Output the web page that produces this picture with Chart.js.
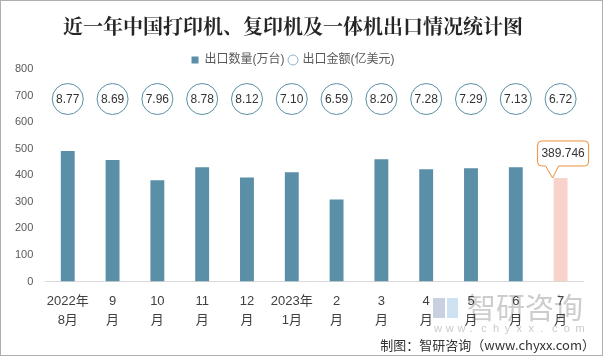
<!DOCTYPE html>
<html>
<head>
<meta charset="utf-8">
<script src="https://cdn.jsdelivr.net/npm/chart.js@4/dist/chart.umd.min.js"></script>
<style>
  html, body { margin: 0; padding: 0; background: #fff; }
  #wrap { position: relative; width: 603px; height: 356px; }
  canvas { display: block; }
</style>
</head>
<body>
<div id="wrap"><canvas id="c" width="603" height="356"></canvas></div>
<script>
// ---- data ----
const categories = [['2022年','8月'],['9','月'],['10','月'],['11','月'],['12','月'],['2023年','1月'],['2','月'],['3','月'],['4','月'],['5','月'],['6','月'],['7','月']];
const exportQty = [491, 457, 381, 430, 392, 411, 309, 460, 423, 426, 430, 389.746];     // 出口数量(万台)
const exportAmount = [8.77, 8.69, 7.96, 8.78, 8.12, 7.10, 6.59, 8.20, 7.28, 7.29, 7.13, 6.72]; // 出口金额(亿美元)
const yTicks = [0, 100, 200, 300, 400, 500, 600, 700, 800];

const FONT = "'Liberation Sans', 'Noto Sans CJK SC', sans-serif";
Chart.defaults.font.family = FONT;

const barColors = exportQty.map((v, i) => i === exportQty.length - 1 ? '#F8D3CB' : '#5B8FA7');

// tighten the legend box so the plot starts right below it
const legendTight = {
  id: 'legendTight',
  beforeLayout(chart, args, opts) {
    const lg = chart.legend;
    if (lg && !lg._tightPatched) {
      const fit = lg.fit;
      lg.fit = function () { fit.call(this); this.height = Math.max(0, this.height - opts.shrink); };
      lg._tightPatched = true;
    }
  }
};

// circles with amount labels, placed at bar centres at a fixed level of the value axis
const amountCircles = {
  id: 'amountCircles',
  afterDatasetsDraw(chart, args, opts) {
    const ctx = chart.ctx;
    const xs = chart.scales.x, ys = chart.scales.y;
    const y = ys.getPixelForValue(opts.level);
    ctx.save();
    exportAmount.forEach((v, i) => {
      const x = xs.getPixelForValue(i);
      ctx.beginPath();
      ctx.arc(x, y, 15.5, 0, Math.PI * 2);
      ctx.fillStyle = '#fff';
      ctx.fill();
      ctx.lineWidth = 1;
      ctx.strokeStyle = '#5B8FA7';
      ctx.stroke();
      ctx.fillStyle = '#333';
      ctx.font = '12px ' + FONT;
      ctx.textAlign = 'center';
      ctx.textBaseline = 'middle';
      ctx.fillText(v.toFixed(2), x, y + 0.5);
    });
    ctx.restore();
  }
};

// callout on the last bar
const callout = {
  id: 'callout',
  afterDatasetsDraw(chart) {
    const meta = chart.getDatasetMeta(0);
    const i = exportQty.length - 1;
    const bar = meta.data[i];
    const ctx = chart.ctx;
    const text = String(exportQty[i]);
    const w = 51, h = 25, r = 4;
    const cx = bar.x + 2.5;
    const bottom = bar.y - 12;
    const left = cx - w / 2, top = bottom - h;
    const tipX = bar.x - 8, tipY = bar.y;
    ctx.save();
    ctx.beginPath();
    ctx.moveTo(left + r, top);
    ctx.lineTo(left + w - r, top);
    ctx.quadraticCurveTo(left + w, top, left + w, top + r);
    ctx.lineTo(left + w, bottom - r);
    ctx.quadraticCurveTo(left + w, bottom, left + w - r, bottom);
    ctx.lineTo(tipX + 6, bottom);
    ctx.lineTo(tipX, tipY);
    ctx.lineTo(tipX - 7, bottom);
    ctx.lineTo(left + r, bottom);
    ctx.quadraticCurveTo(left, bottom, left, bottom - r);
    ctx.lineTo(left, top + r);
    ctx.quadraticCurveTo(left, top, left + r, top);
    ctx.closePath();
    ctx.fillStyle = '#fff';
    ctx.fill();
    ctx.lineWidth = 1;
    ctx.strokeStyle = '#E8913A';
    ctx.stroke();
    ctx.fillStyle = '#333';
    ctx.font = '12px ' + FONT;
    ctx.textAlign = 'center';
    ctx.textBaseline = 'middle';
    ctx.fillText(text, cx, top + h / 2 + 0.5);
    ctx.restore();
  }
};

// watermark, footer and frame
const decor = {
  id: 'decor',
  beforeDraw(chart) {
    const ctx = chart.ctx;
    ctx.save();
    ctx.fillStyle = '#fff';
    ctx.fillRect(0, 0, chart.width, chart.height);
    ctx.fillStyle = '#C9D0DF';
    ctx.fillRect(433, 298, 12, 20);
    ctx.fillStyle = '#CFE2F1';
    ctx.fillRect(447, 298, 11, 20);
    ctx.fillStyle = '#CDCDCD';
    ctx.font = '29px "Noto Sans CJK SC", sans-serif';
    ctx.textAlign = 'left';
    ctx.textBaseline = 'middle';
    ctx.fillText('智研咨询', 467, 308);
    ctx.fillStyle = '#CACACA';
    ctx.font = '11px ' + FONT;
    const wm = 'www.chyxx.com';
    for (let k = 0; k < wm.length; k++) {
      ctx.fillText(wm[k], 434 + k * 11.8, 329);
    }
    ctx.restore();
  },
  afterDraw(chart) {
    const ctx = chart.ctx;
    ctx.save();
    ctx.fillStyle = '#333';
    ctx.font = '13px "Noto Sans CJK SC", sans-serif';
    ctx.textAlign = 'right';
    ctx.textBaseline = 'middle';
    ctx.fillText('制图：智研咨询（www.chyxx.com）', 595, 345);
    ctx.strokeStyle = '#AFAFAF';
    ctx.lineWidth = 1;
    ctx.strokeRect(0.5, 0.5, chart.width - 1, chart.height - 1);
    ctx.restore();
  }
};

new Chart(document.getElementById('c'), {
  type: 'bar',
  data: {
    labels: categories,
    datasets: [
      {
        type: 'bar',
        label: '出口数量(万台)',
        data: exportQty,
        backgroundColor: barColors,
        borderWidth: 0,
        barPercentage: 0.31,
        categoryPercentage: 1,
        pointStyle: 'rect',
        yAxisID: 'y'
      },
      {
        type: 'line',
        label: '出口金额(亿美元)',
        data: exportAmount,
        yAxisID: 'y2',
        showLine: false,
        pointRadius: 0,
        pointHoverRadius: 0,
        pointStyle: 'circle',
        borderColor: '#8FB3C9',
        backgroundColor: '#fff',
        borderWidth: 1
      }
    ]
  },
  options: {
    responsive: false,
    animation: false,
    devicePixelRatio: 1,
    layout: { padding: { left: 3, right: 20, top: 0, bottom: 15.5 } },
    plugins: {
      title: {
        display: true,
        text: '近一年中国打印机、复印机及一体机出口情况统计图',
        color: '#262626',
        font: { size: 20, weight: 'bold', family: "'Noto Serif CJK SC', 'Noto Sans CJK SC', serif" },
        padding: { top: 14, bottom: 11 }
      },
      legend: {
        display: true,
        position: 'top',
        labels: {
          usePointStyle: true,
          boxWidth: 7,
          boxHeight: 7,
          color: '#595959',
          font: { size: 12 },
          padding: 5,
          sort: (a, b) => a.datasetIndex - b.datasetIndex
        }
      },
      legendTight: { shrink: 7 },
      tooltip: { enabled: false },
      amountCircles: { level: 687 }
    },
    scales: {
      x: {
        grid: { display: false, drawTicks: false },
        border: { display: true, color: '#D9D9D9', width: 1 },
        ticks: {
          color: '#404040',
          font: { size: 13, lineHeight: 1.5 },
          padding: 10,
          maxRotation: 0,
          autoSkip: false
        }
      },
      y: {
        min: 0,
        max: 800,
        afterBuildTicks(scale) { scale.ticks = yTicks.map(v => ({ value: v })); },
        grid: { display: false, drawTicks: false },
        border: { display: false },
        ticks: { color: '#595959', font: { size: 11 }, padding: 12 }
      },
      y2: { display: false }
    }
  },
  plugins: [legendTight, decor, amountCircles, callout]
});
</script>
</body>
</html>
